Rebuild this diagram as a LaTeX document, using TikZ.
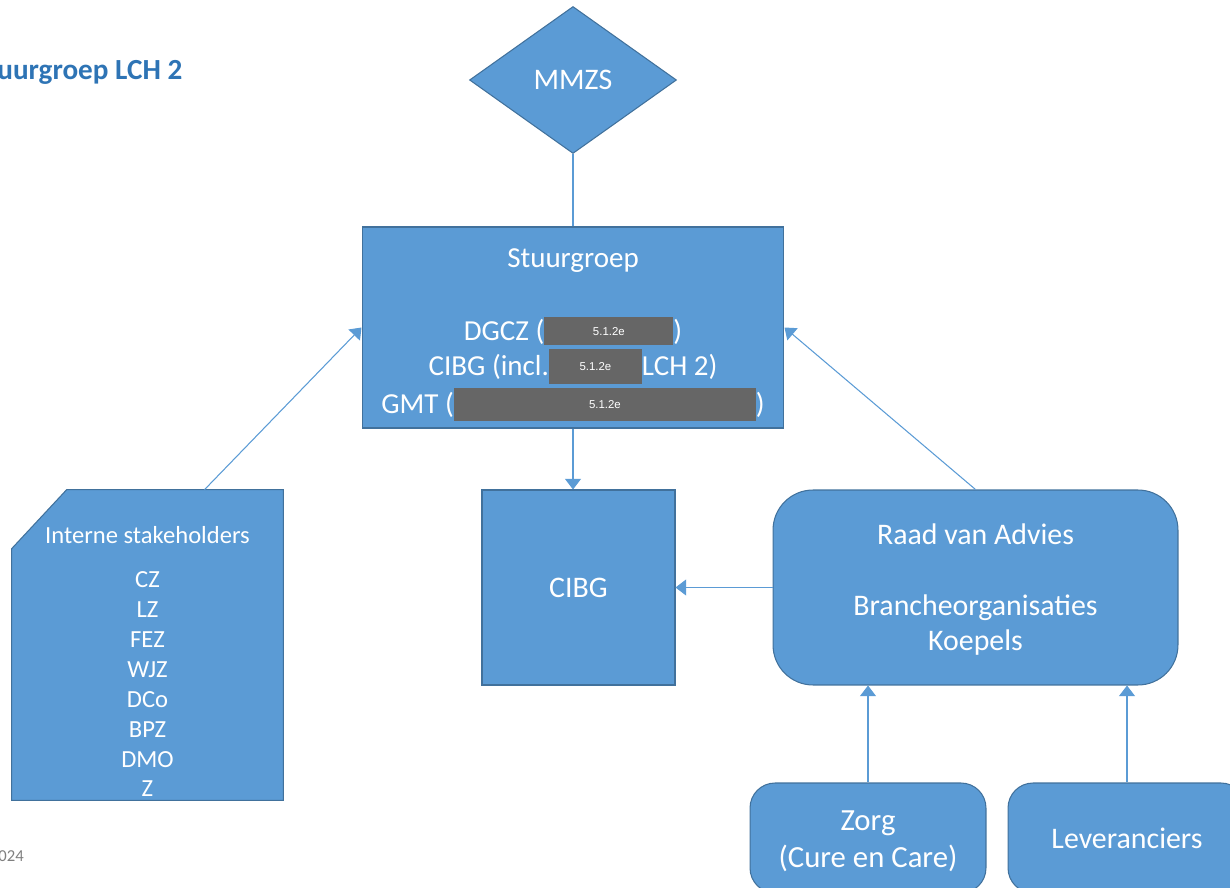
\documentclass[tikz,border=0pt]{standalone}
\usepackage{fontspec}
\setmainfont{Carlito}
\newfontfamily\lakfont{Liberation Sans}
\usetikzlibrary{arrows.meta, positioning, shapes.geometric}
\definecolor{vlakblauw}{RGB}{91,155,213}
\definecolor{randblauw}{RGB}{65,113,156}
\definecolor{titelblauw}{RGB}{46,116,181}
\definecolor{lakgrijs}{RGB}{102,102,102}
\definecolor{voetgrijs}{RGB}{127,127,127}
\pgfdeclarelayer{background}
\pgfsetlayers{background,main}
\newcommand{\fs}[2]{\fontsize{#1}{#2}\selectfont}
% gray blackout bar: width, rule depth, rule height
\newcommand{\lak}[3]{{\fboxsep=0pt\colorbox{lakgrijs}{\makebox[#1]{\rule[#2]{0pt}{#3}%
  \raisebox{\dimexpr#2+#3/2-2.4pt\relax}{\lakfont\fs{6.5}{8}\textcolor{white}{5.1.2e}}}}}}

\begin{document}
\begin{tikzpicture}[x=0.02cm, y=-0.02cm,
    box/.style={rectangle, draw=randblauw, fill=vlakblauw, line width=0.6pt, text=white, align=center, inner sep=0pt},
    roundbox/.style={box, rounded corners=#1},
    textbox/.style={rectangle, text=white, align=center, inner sep=0pt},
    arrow/.style={-{Triangle[width=9pt,length=6pt]}, draw=vlakblauw, line width=0.6pt},
    link/.style={draw=vlakblauw, line width=0.6pt}
]
\clip (0,0) rectangle (1230,888);

\node[anchor=base west, inner sep=0pt, text=titelblauw, font=\bfseries\fs{16.6}{19}] (titel) at (-3,80) {uurgroep LCH 2};
\node[anchor=base west, inner sep=0pt, text=voetgrijs, font=\fs{9.5}{11}] (datum) at (-2,861) {024};

\node[box, diamond, shape aspect=1.41, minimum width=4.14cm, minimum height=2.94cm, font=\fs{17}{20}] (mmzs) at (573,80) {MMZS};

\node[box, minimum width=8.44cm, minimum height=4.02cm, font=\fs{16.5}{20.4}] (stuur) at (573,327.5)
  {\raisebox{0pt}[19pt]{Stuurgroep}\\[21pt]
   DGCZ (\lak{2.58cm}{-2.8pt}{16pt})\\
   CIBG (incl.\lak{1.86cm}{-4.8pt}{20pt}LCH 2)\\[1pt]
   GMT (\lak{6.04cm}{-4.3pt}{19pt})};

\node[box, minimum width=3.86cm, minimum height=3.9cm, font=\fs{17}{20}] (cibg) at (578.5,587.5) {CIBG};

\node[roundbox=0.8cm, minimum width=8.1cm, minimum height=3.9cm, font=\fs{17}{19.8}] (raad) at (975.5,587.5)
  {\raisebox{0pt}[14pt]{Raad van Advies}\\[21pt]Brancheorganisaties\\Koepels};

% snipped box for the internal stakeholders
\node[textbox, minimum width=5.42cm, minimum height=6.2cm, font=\fs{14}{17}] (stake) at (147.5,645)
  {\strut\\Interne stakeholders\\[8pt]CZ\\LZ\\FEZ\\WJZ\\DCo\\BPZ\\DMO\\Z};
\begin{pgfonlayer}{background}
\filldraw[draw=randblauw, fill=vlakblauw, line width=0.6pt]
  ([xshift=1.1cm]stake.north west) -- (stake.north east) -- (stake.south east)
  -- (stake.south west) -- ([yshift=-1.18cm]stake.north west) -- cycle;
\end{pgfonlayer}

\node[roundbox=0.5cm, minimum width=4.72cm, minimum height=2.2cm, font=\fs{17.5}{21}] (zorg) at (868,838)
  {\raisebox{0pt}[15pt]{Zorg}\\(Cure en Care)};
\node[roundbox=0.5cm, minimum width=4.76cm, minimum height=2.2cm, font=\fs{17}{21}] (lever) at (1127,838)
  {Leveranciers};

% connectors
\draw[link] (mmzs.south) -- (stuur.north);
\draw[arrow] (stuur.south) -- (stuur.south |- cibg.north);
\draw[arrow] (raad.west) -- (cibg.east);
\draw[arrow] ([xshift=1.14cm]stake.north) -- (stuur.west);
\draw[arrow] (raad.north) -- (stuur.east);
\draw[arrow] (zorg.north) -- (zorg.north |- raad.south);
\draw[arrow] (lever.north) -- (lever.north |- raad.south);

\end{tikzpicture}
\end{document}
